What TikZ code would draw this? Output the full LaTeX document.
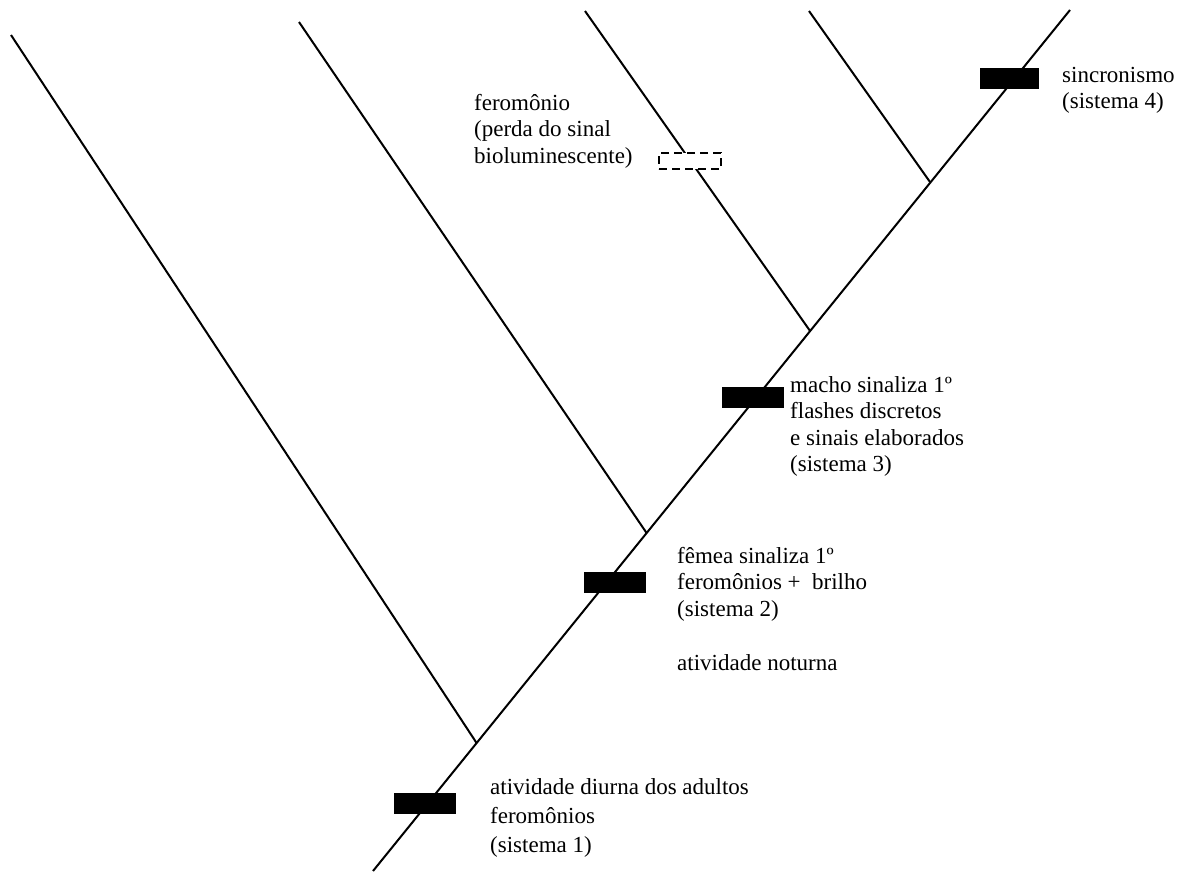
\documentclass[tikz,border=0pt]{standalone}
\usepackage{fontspec}
\setmainfont{Liberation Serif}
\begin{document}
\begin{tikzpicture}[x=1pt,y=-1pt,
  edge/.style={line width=2pt},
  bar/.style={fill=black, draw=none, minimum width=62pt, minimum height=21pt, inner sep=0pt, outer sep=0pt},
  lossbox/.style={draw=black, dashed, dash pattern=on 8pt off 5pt, line width=1.6pt, fill=white, minimum width=62pt, minimum height=16pt, inner sep=0pt},
  lbl/.style={anchor=base west, inner sep=0pt, font=\fontsize{23}{26.5}\selectfont}]
\useasboundingbox (0,0) rectangle (1199,871);
% trunk
\coordinate (root) at (373,871);
\coordinate (top) at (1070,10);
\coordinate (j1) at (476.6,743);
\coordinate (j2) at (646.6,533);
\coordinate (j3) at (810.1,331);
\coordinate (j4) at (930,182);
% tips
\coordinate (t1) at (11,35);
\coordinate (t2) at (299,22);
\coordinate (t3) at (585,11);
\coordinate (t4) at (809,11);
\draw[edge] (root) -- (top);
\draw[edge] (t1) -- (j1);
\draw[edge] (t2) -- (j2);
\draw[edge] (t3) -- (j3);
\draw[edge] (t4) -- (j4);
% character bars
\node[bar] (b1) at (425,803.5) {};
\node[bar] (b2) at (615,582.5) {};
\node[bar] (b3) at (752.5,397.5) {};
\node[bar, minimum width=59pt] (b4) at (1009.5,78.5) {};
\node[lossbox] (loss) at (690,161) {};
% labels
\node[lbl] (l4a) at (1062,82) {sincronismo};
\node[lbl] (l4b) at (1062,108.5) {(sistema 4)};
\node[lbl] (lfa) at (474,110) {feromônio};
\node[lbl] (lfb) at (474,136.5) {(perda do sinal};
\node[lbl] (lfc) at (474,163) {bioluminescente)};
\node[lbl] (l3a) at (790,392) {macho sinaliza 1º};
\node[lbl] (l3b) at (790,418.5) {flashes discretos};
\node[lbl] (l3c) at (790,445) {e sinais elaborados};
\node[lbl] (l3d) at (790,471.5) {(sistema 3)};
\node[lbl] (l2a) at (677,563) {fêmea sinaliza 1º};
\node[lbl] (l2b) at (677,589.5) {feromônios + \ brilho};
\node[lbl] (l2c) at (677,616) {(sistema 2)};
\node[lbl] (lnoct) at (677,670) {atividade noturna};
\node[lbl] (l1a) at (490,794) {atividade diurna dos adultos};
\node[lbl] (l1b) at (490,823) {feromônios};
\node[lbl] (l1c) at (490,852) {(sistema 1)};
\end{tikzpicture}
\end{document}
